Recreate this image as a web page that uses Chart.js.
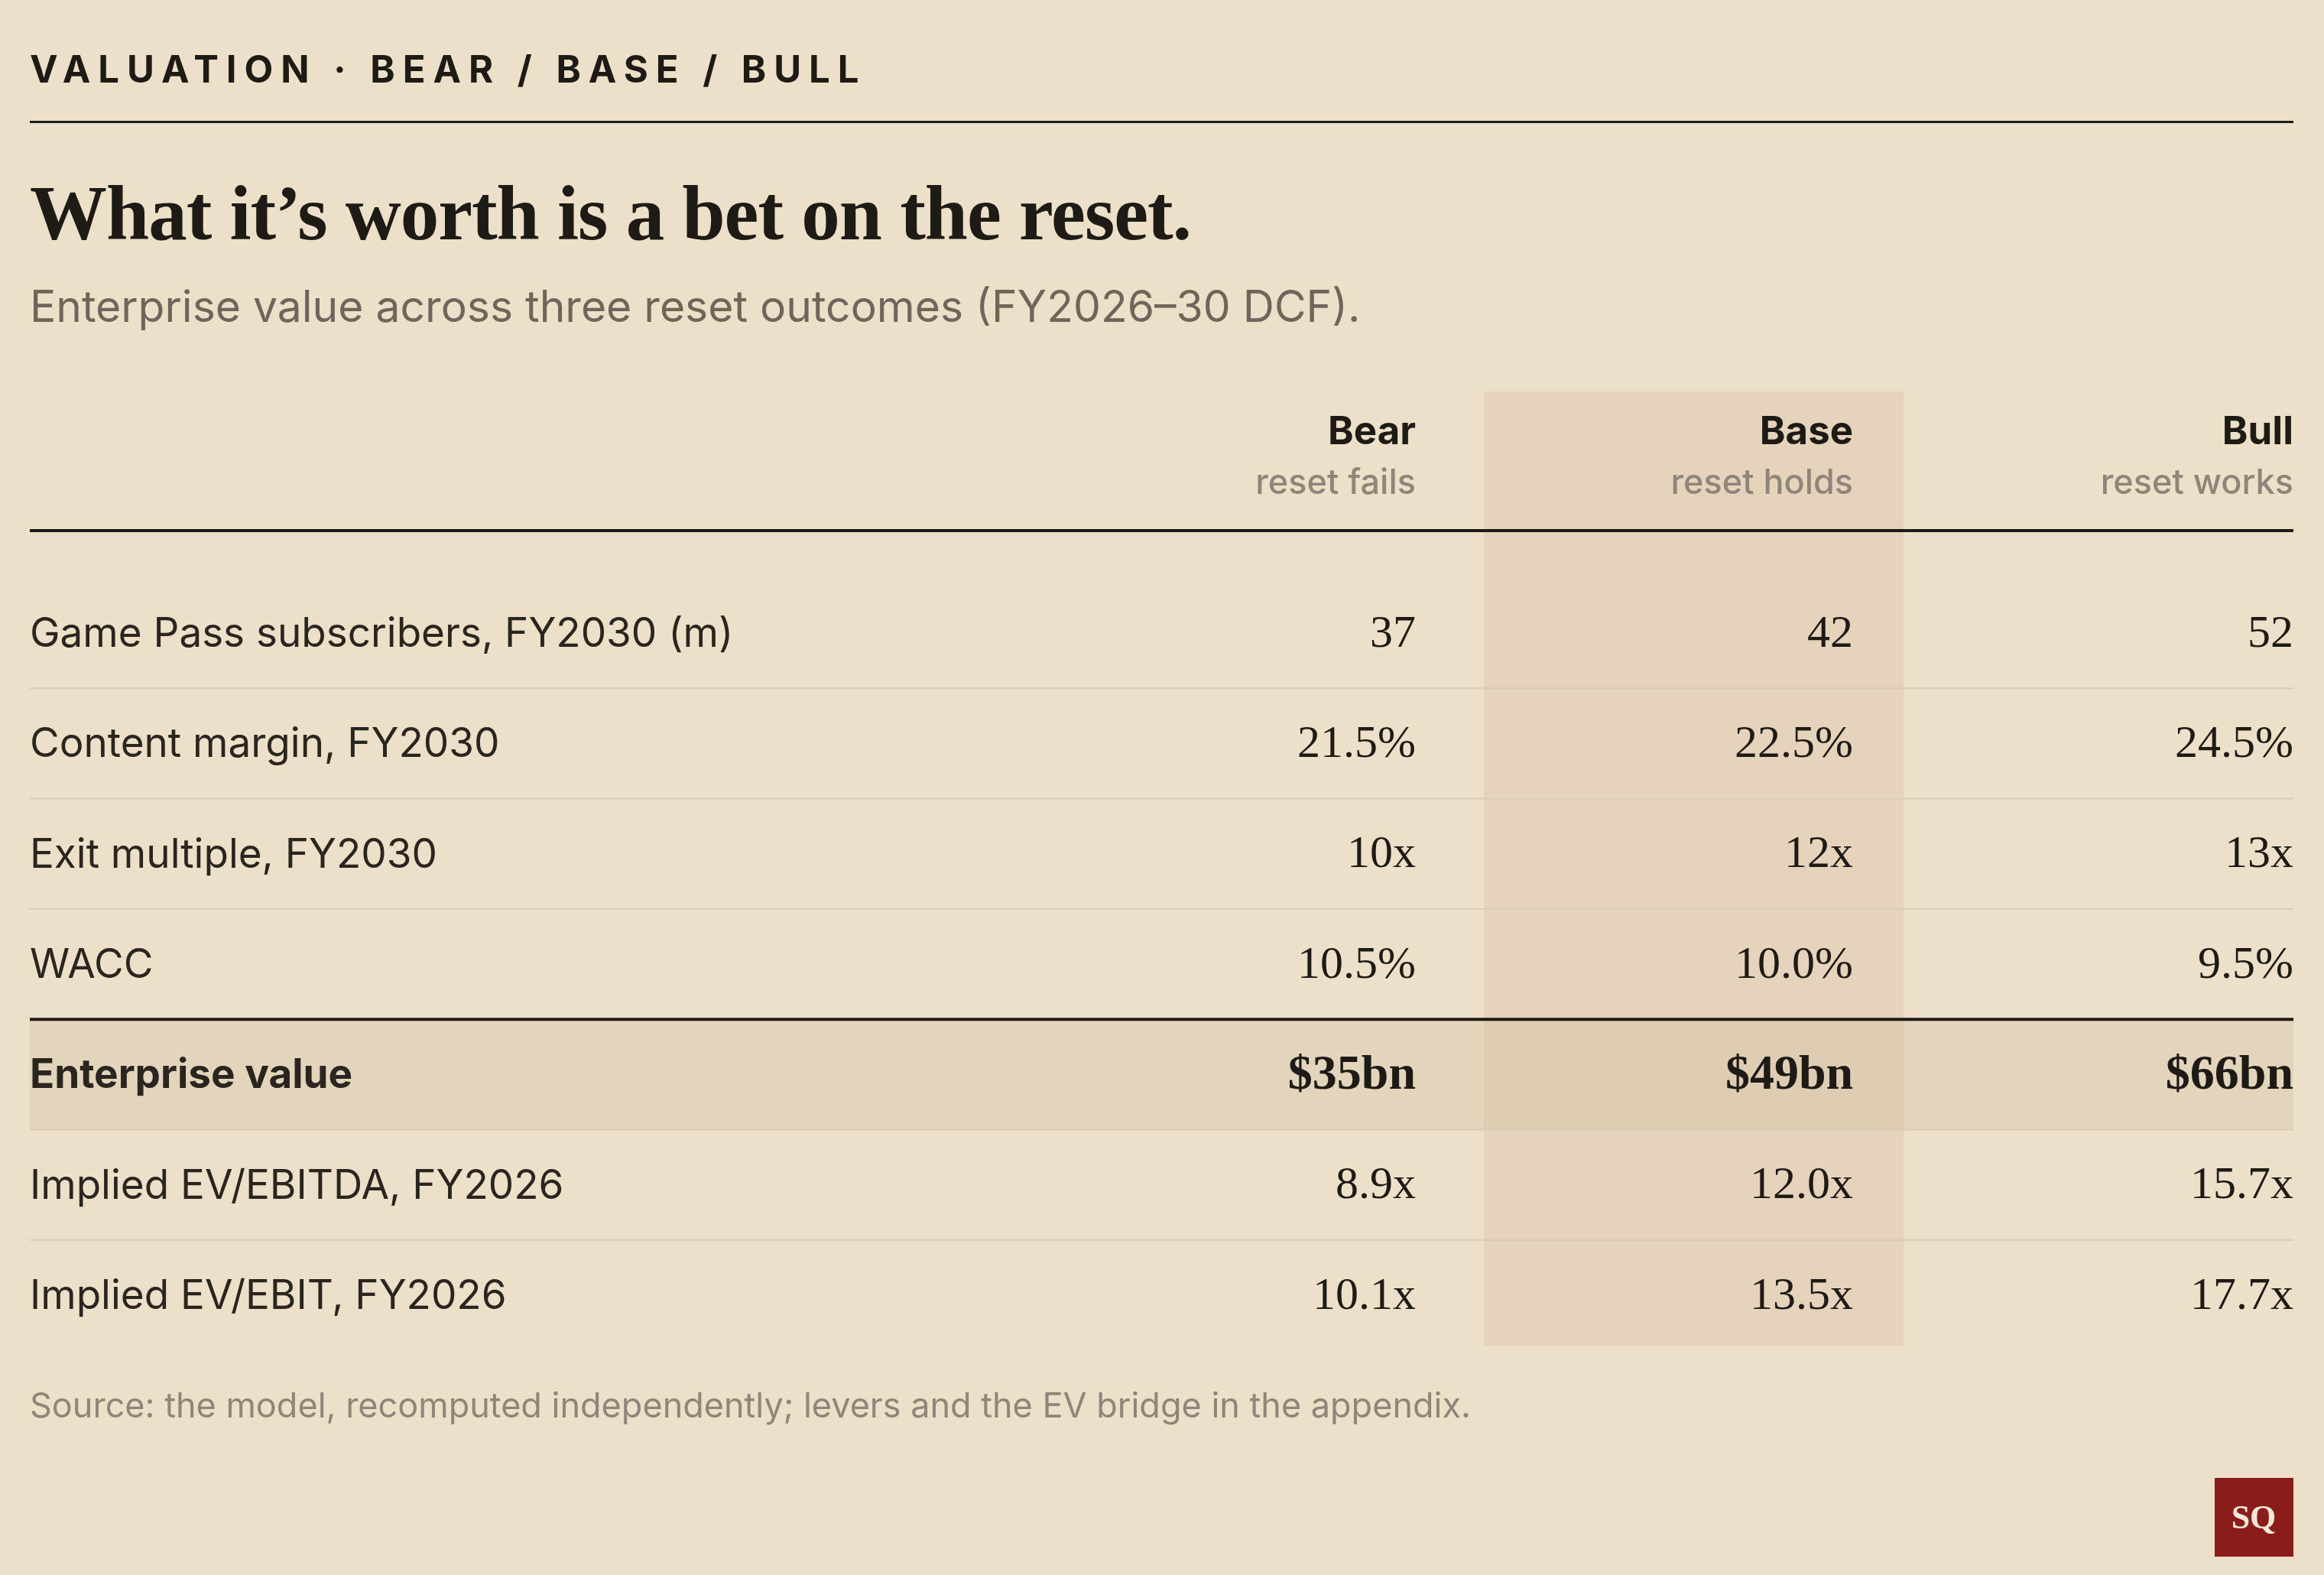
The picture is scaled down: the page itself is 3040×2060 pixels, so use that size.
<!DOCTYPE html>
<html><head><meta charset="utf-8">
<script src="https://cdn.jsdelivr.net/npm/chart.js@4"></script>
<style>html,body{margin:0;padding:0;background:#ede0c9;}canvas{display:block}</style>
</head><body>
<canvas id="c" width="3040" height="2060"></canvas>
<script>
const rowLabels = ["Game Pass subscribers, FY2030 (m)","Content margin, FY2030","Exit multiple, FY2030","WACC","Enterprise value","Implied EV/EBITDA, FY2026","Implied EV/EBIT, FY2026"];
const scenarios = ["Bear","Base","Bull"];
const scenarioNotes = ["reset fails","reset holds","reset works"];
const bearValues = ["37","21.5%","10x","10.5%","$35bn","8.9x","10.1x"];
const baseValues = ["42","22.5%","12x","10.0%","$49bn","12.0x","13.5x"];
const bullValues = ["52","24.5%","13x","9.5%","$66bn","15.7x","17.7x"];
const kicker = "VALUATION · BEAR / BASE / BULL";
const title = "What it’s worth is a bet on the reset.";
const subtitle = "Enterprise value across three reset outcomes (FY2026–30 DCF).";
const source = "Source: the model, recomputed independently; levers and the EV bridge in the appendix.";

const colRight = [0.6123, 0.8055, 1.0]; // fraction of table width
const SANS = "Inter, 'Noto Sans', sans-serif";
const SERIF = "'Liberation Serif', 'DejaVu Serif', serif";

const tablePlugin = {
  id: 'table',
  beforeDatasetsDraw(chart) {
    const {ctx, chartArea: a, scales: {x, y}} = chart;
    const h = y.getPixelForValue(1) - y.getPixelForValue(0);
    ctx.save();
    const bx0 = x.getPixelForValue(colRight[0]) + 89, bx1 = x.getPixelForValue(colRight[1]) + 66;
    ctx.fillStyle = 'rgba(215,190,165,0.38)';
    ctx.fillRect(bx0, 512, bx1 - bx0, a.bottom - 6 - 512);
    const evY = y.getPixelForValue(4);
    ctx.fillStyle = 'rgba(200,180,150,0.25)';
    ctx.fillRect(a.left, evY - h/2, a.right - a.left, h);
    for (let i = 0; i < rowLabels.length - 1; i++) {
      const yy = y.getPixelForValue(i) + h/2;
      ctx.beginPath();
      if (i === 3) { ctx.strokeStyle = '#1e1a16'; ctx.lineWidth = 4; }
      else { ctx.strokeStyle = '#d9ccb5'; ctx.lineWidth = 2; }
      ctx.moveTo(a.left, yy); ctx.lineTo(a.right, yy); ctx.stroke();
    }
    ctx.restore();
  },
  afterDatasetsDraw(chart) {
    const {ctx, chartArea: a, scales: {x, y}} = chart;
    ctx.save();
    ctx.textBaseline = 'middle';
    ctx.fillStyle = '#1e1a16';
    ctx.font = `700 49px ${SANS}`;
    ctx.letterSpacing = '10px';
    ctx.textAlign = 'left';
    ctx.fillText(kicker, a.left, 93);
    ctx.letterSpacing = '0px';
    ctx.fillRect(a.left, 158, a.right - a.left, 3);
    ctx.font = `700 101px ${SERIF}`;
    ctx.letterSpacing = '-1px';
    ctx.fillText(title, a.left, 287);
    ctx.letterSpacing = '0px';
    ctx.font = `400 57px ${SANS}`;
    ctx.fillStyle = '#6e655b';
    ctx.fillText(subtitle, a.left, 404);
    ctx.textAlign = 'right';
    scenarios.forEach((s, i) => {
      const xx = x.getPixelForValue(colRight[i]);
      ctx.fillStyle = '#1e1a16'; ctx.font = `700 51px ${SANS}`;
      ctx.fillText(s, xx, 566);
      ctx.fillStyle = '#8f867b'; ctx.font = `500 45px ${SANS}`;
      ctx.fillText(scenarioNotes[i], xx, 632);
    });
    ctx.fillStyle = '#1e1a16';
    ctx.fillRect(a.left, 692, a.right - a.left, 4);
    ctx.textAlign = 'left';
    rowLabels.forEach((r, i) => {
      ctx.fillStyle = '#2b2520';
      ctx.font = (i === 4 ? '700 ' : '400 ') + `53px ${SANS}`;
      ctx.fillText(r, a.left, y.getPixelForValue(i) + 2);
    });
    ctx.textAlign = 'right';
    chart.data.datasets.forEach((ds, di) => {
      chart.getDatasetMeta(di).data.forEach((pt, i) => {
        ctx.fillStyle = '#1e1a16';
        ctx.font = (i === 4 ? '700 64px ' : '400 60px ') + SERIF;
        ctx.fillText(ds.texts[i], pt.x, pt.y + 2);
      });
    });
    ctx.textAlign = 'left';
    ctx.fillStyle = '#8f867b';
    ctx.font = `400 45px ${SANS}`;
    ctx.fillText(source, a.left, 1840);
    ctx.fillStyle = '#8a1c1a';
    ctx.fillRect(2897, 1933, 103, 103);
    ctx.fillStyle = '#f4e9d6';
    ctx.textAlign = 'center';
    ctx.font = `700 44px ${SERIF}`;
    ctx.fillText('SQ', 2948, 1988);
    ctx.restore();
  }
};

const allValues = [bearValues, baseValues, bullValues];
new Chart(document.getElementById('c'), {
  type: 'scatter',
  data: {
    datasets: scenarios.map((s, i) => ({
      label: s,
      texts: allValues[i],
      data: allValues[i].map((v, r) => ({x: colRight[i], y: r})),
      pointRadius: 0
    }))
  },
  options: {
    responsive: false, animation: false, devicePixelRatio: 1,
    layout: {padding: {left: 39, right: 40, top: 756, bottom: 294}},
    plugins: {legend: {display: false}, tooltip: {enabled: false}},
    scales: {
      x: {type: 'linear', min: 0, max: 1, display: false},
      y: {type: 'linear', min: -0.5, max: rowLabels.length - 0.5, reverse: true, display: false}
    }
  },
  plugins: [tablePlugin]
});
</script>
</body></html>
